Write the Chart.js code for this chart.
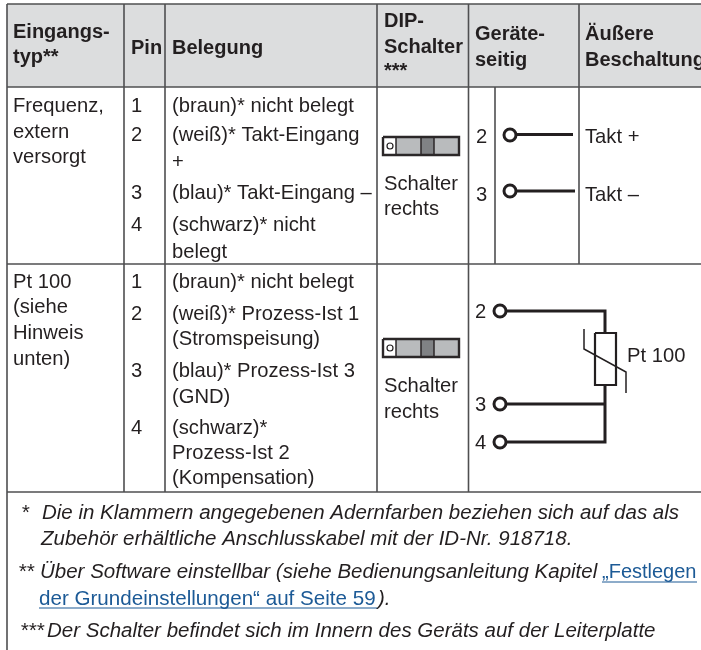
<!DOCTYPE html>
<html><head><meta charset="utf-8">
<style>html,body{margin:0;padding:0;background:#fff}canvas{display:block}</style>
<script src="https://cdn.jsdelivr.net/npm/chart.js@4"></script>
</head><body><canvas id="c" width="701" height="650"></canvas>
<script>
// ---- text content ----
const headerLabels = ["Eingangs-","typ**","Pin","Belegung","DIP-","Schalter","***","Geräte-","seitig","Äußere","Beschaltung"];
const row1Labels = ["Frequenz,","extern","versorgt","1","2","3","4","(braun)* nicht belegt","(weiß)* Takt-Eingang","+","(blau)* Takt-Eingang –","(schwarz)* nicht","belegt","Schalter","rechts","2","3","Takt +","Takt –"];
const row2Labels = ["Pt 100","(siehe","Hinweis","unten)","1","2","3","4","(braun)* nicht belegt","(weiß)* Prozess-Ist 1","(Stromspeisung)","(blau)* Prozess-Ist 3","(GND)","(schwarz)*","Prozess-Ist 2","(Kompensation)","Schalter","rechts","2","3","4","Pt 100"];
const noteLabels = ["*","Die in Klammern angegebenen Adernfarben beziehen sich auf das als","Zubehör erhältliche Anschlusskabel mit der ID-Nr. 918718.","**","Über Software einstellbar (siehe Bedienungsanleitung Kapitel",").","***","Der Schalter befindet sich im Innern des Geräts auf der Leiterplatte"];
const linkLabels = ["„Festlegen","der Grundeinstellungen“ auf Seite 59"];

// ---- geometry of the table, in image units ----
const headerBand = [[7,4],[701,4],[7,87],[701,87]];
const tableRules = [
  [[7,4],[701,4]], [[7,87],[701,87]], [[7,264],[701,264]], [[7,492],[701,492]],
  [[7,4],[7,650]], [[124,4],[124,492]], [[165,4],[165,492]], [[377,4],[377,492]],
  [[468.5,4],[468.5,492]], [[495,87],[495,264]], [[579,4],[579,264]]
];
const wires = [
  [[510,134.5],[573,134.5]], [[510,191],[575,191]],
  [[500,311],[605,311],[605,333]], [[605,385],[605,442],[500,442]], [[500,404],[605,404]]
];
const resistor = [[595,333],[616,333],[616,385],[595,385],[595,333]];
const resistorSlash = [[584,329],[584,349],[626,372],[626,393]];
const terminals = [[510,135],[510,191],[500,311],[500,404],[500,442]];
const dipTops = [137,339];
const dipBands = [[396,421,'#b9bbbd'],[434,459,'#b9bbbd'],[421,434,'#808285']];
const dipMarks = [[390,146],[390,348]];
const linkRules = [[[602,582],[697,582]],[[39,608],[377,608]]];

const ink='#231f20', rule='#4f4f51', blue='#1c5a96';
const F={h:'bold 20px "Liberation Sans"',b:'20.2px "Liberation Sans"',i:'italic 20.5px "Liberation Sans"',l:'20px "Liberation Sans"',m:'20.6px "Liberation Sans"'};
const headerPos=[[13,38,'h'],[13,63,'h'],[131,54,'h'],[172,54,'h'],[384,27,'h'],[384,53,'h'],[384,77,'h'],[475,40,'h'],[475,66,'h'],[585,40,'h'],[585,66,'h']];
const row1Pos=[[13,112],[13,138],[13,163],[131,112],[131,141],[131,199],[131,231],[172,112],[172,141],[172,168],[172,199],[172,231],[172,258],[384,190],[384,215],[476,143],[476,201],[585,143],[585,201]];
const row2Pos=[[13,288],[13,313],[13,339],[13,365],[131,288],[131,320],[131,377],[131,434],[172,288],[172,320],[172,345],[172,377],[172,403],[172,434],[172,459],[172,484],[384,392],[384,418],[475,318],[475,411],[475,449],[627,362]];
const notePos=[[21,519],[42,519],[41,545],[18,578],[40,578],[378,605],[20,637],[47,637]];
const linkPos=[[602,578,'l'],[39,605,'m']];

const toXY=p=>p.map(([x,y])=>({x,y}));
const datasets=[];
const line=(pts,color,width,order)=>datasets.push({data:toXY(pts),showLine:true,borderColor:color,borderWidth:width,pointRadius:0,borderCapStyle:'butt',borderJoinStyle:'miter',tension:0,fill:false,order});
const band=(x0,x1,y0,y1,color)=>{
  datasets.push({data:toXY([[x0,y0],[x1,y0]]),showLine:true,borderWidth:0,pointRadius:0,backgroundColor:color,borderColor:color,fill:'+1',order:9});
  datasets.push({data:toXY([[x0,y1],[x1,y1]]),showLine:true,borderWidth:0,pointRadius:0,borderColor:color,fill:false,order:9});
};
band(headerBand[0][0],headerBand[1][0],headerBand[0][1],headerBand[2][1],'#dcddde');
dipTops.forEach(t=>{
  dipBands.forEach(([a,b,c])=>band(a,b,t,t+18,c));
  line([[383,t],[459,t],[459,t+18],[383,t+18],[383,t]],'#2b2728',2.4,3);
  line([[396,t],[396,t+18]],'#2b2728',1.5,3);
  line([[421,t],[421,t+18]],'#2b2728',1.5,3);
  line([[434,t],[434,t+18]],'#2b2728',1.5,3);
});
tableRules.forEach(r=>line(r,rule,1.6,5));
wires.forEach(r=>line(r,'#231f20',3,3));
line(resistor,'#231f20',2.2,3);
line(resistorSlash,'#231f20',1.5,3);
linkRules.forEach(r=>line(r,blue,1.2,3));
datasets.push({data:toXY(terminals),showLine:false,pointRadius:6,pointBorderWidth:3,pointBackgroundColor:'#fff',pointBorderColor:'#231f20',order:1});
datasets.push({data:toXY(dipMarks),showLine:false,pointRadius:3,pointBorderWidth:1.2,pointBackgroundColor:'#fff',pointBorderColor:'#231f20',order:1});

const textPlugin={id:'tableText',afterDatasetsDraw(chart){
  const {ctx,scales:{x,y}}=chart;
  ctx.save();ctx.textBaseline='alphabetic';ctx.textAlign='left';
  const put=(labels,pos,font,color)=>labels.forEach((s,i)=>{
    ctx.font=F[pos[i][2]||font];ctx.fillStyle=color;
    ctx.fillText(s,x.getPixelForValue(pos[i][0]),y.getPixelForValue(pos[i][1]));
  });
  put(headerLabels,headerPos,'h',ink);
  put(row1Labels,row1Pos,'b',ink);
  put(row2Labels,row2Pos,'b',ink);
  put(noteLabels,notePos,'i',ink);
  put(linkLabels,linkPos,'l',blue);
  ctx.restore();
}};

new Chart(document.getElementById('c'),{
  type:'scatter',
  data:{datasets},
  options:{
    responsive:false,animation:false,
    layout:{padding:0,autoPadding:false},
    plugins:{legend:{display:false},tooltip:{enabled:false},title:{display:false}},
    scales:{
      x:{type:'linear',min:0,max:701,display:false},
      y:{type:'linear',min:0,max:650,reverse:true,display:false}
    }
  },
  plugins:[textPlugin]
});
</script></body></html>
